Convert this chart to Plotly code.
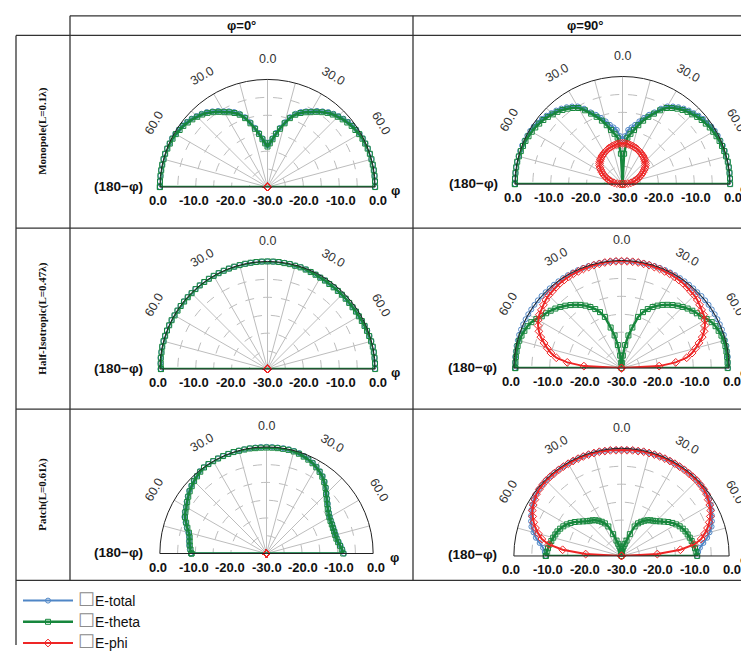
import math
import plotly.graph_objects as go

W, H = 749, 651

# ---------------- data ----------------
THETA = list(range(-90, 91, 3))          # elevation angle, deg (negative = "(180-φ)" side)
ROWS = ["Monopole(L=0.1λ)", "Half-Isotropic(L=0.47λ)", "Patch(L=0.61λ)"]
COLS = ["φ=0°", "φ=90°"]
SERIES = ["E-total", "E-theta", "E-phi"]
ANG_TICKS = [-60, -30, 0, 30, 60]
ANG_TEXT = ["60.0", "30.0", "0.0", "30.0", "60.0"]
RAD_TICKS = [0, -10, -20, -30]
RAD_RANGE = [-30, 0]

# Monopole, phi = 0
MONO0_TOTAL = [0, 0, 0, 0, 0, 0, 0, 0, -0.1, -0.1, -0.3, -0.5, -0.7, -1.1, -1.5, -2.0, -2.5, -3.1, -3.9, -4.7,
               -5.6, -6.3, -7.1, -8.1, -9.5, -11.3, -13.1, -14.7, -16.3, -17.5,
               -18.4,
               -17.5, -16.3, -14.7, -13.1, -11.3, -9.5, -8.1, -7.1, -6.3, -5.6, -4.7, -3.9, -3.1, -2.5, -2.0,
               -1.5, -1.1, -0.7, -0.5, -0.3, -0.1, -0.1, 0, 0, 0, 0, 0, 0, 0, 0]
MONO0_THETA = [0, 0, 0, 0, 0, 0, 0, -0.1, -0.2, -0.3, -0.5, -0.8, -1.0, -1.4, -1.8, -2.3, -2.8, -3.4, -4.2, -5.0,
               -5.9, -6.6, -7.4, -8.4, -9.8, -11.6, -13.4, -15.0, -16.6, -17.8,
               -18.7,
               -17.8, -16.6, -15.0, -13.4, -11.6, -9.8, -8.4, -7.4, -6.6, -5.9, -5.0, -4.2, -3.4, -2.8, -2.3,
               -1.8, -1.4, -1.0, -0.8, -0.5, -0.3, -0.2, -0.1, 0, 0, 0, 0, 0, 0, 0]
PHI0_EPHI = [-30, -30, -30, -30, -30, -30, -30, -30, -30, -30, -30, -30, -30, -30, -30, -30, -30, -30, -30, -30,
             -30, -30, -30, -30, -30, -30, -30, -30, -30, -30,
             -30,
             -30, -30, -30, -30, -30, -30, -30, -30, -30, -30, -30, -30, -30, -30, -30, -30, -30, -30, -30, -30,
             -30, -30, -30, -30, -30, -30, -30, -30, -30, -30]

# Monopole, phi = 90
MONO90_TOTAL = [0, 0, 0, 0, 0, 0, 0, 0, -0.1, -0.2, -0.3, -0.5, -0.8, -1.1, -1.5, -2.0, -2.4, -2.9, -3.5, -4.2,
                -5.0, -6.4, -8.1, -9.3, -10.6, -11.9, -13.1, -14.0, -14.8, -16.6,
                -17.4,
                -16.6, -14.8, -14.0, -13.1, -11.9, -10.6, -9.3, -8.1, -6.4, -5.0, -4.2, -3.5, -2.9, -2.4, -2.0,
                -1.5, -1.1, -0.8, -0.5, -0.3, -0.2, -0.1, 0, 0, 0, 0, 0, 0, 0, 0]
MONO90_THETA = [0, 0, 0, 0, 0, -0.1, -0.2, -0.3, -0.4, -0.6, -0.8, -1.0, -1.3, -1.6, -2.0, -2.5, -2.9, -3.4, -4.0,
                -4.7, -5.5, -6.9, -8.5, -9.9, -11.4, -13.0, -14.6, -15.8, -17.0, -21.5,
                -30,
                -21.5, -17.0, -15.8, -14.6, -13.0, -11.4, -9.9, -8.5, -6.9, -5.5, -4.7, -4.0, -3.4, -2.9, -2.5,
                -2.0, -1.6, -1.3, -1.0, -0.8, -0.6, -0.4, -0.3, -0.2, -0.1, 0, 0, 0, 0, 0]
MONO90_PHI = [-30, -29.3, -28.5, -27.6, -26.8, -26.3, -25.8, -25.2, -24.6, -24.0, -23.4, -22.8, -22.3, -21.8, -21.4,
              -21.1, -20.8, -20.5, -20.3, -20.1, -19.9, -19.7, -19.5, -19.3, -19.2, -19.0, -18.9, -18.8, -18.7, -18.6,
              -18.6,
              -18.6, -18.7, -18.8, -18.9, -19.0, -19.2, -19.3, -19.5, -19.7, -19.9, -20.1, -20.3, -20.5, -20.8,
              -21.1, -21.4, -21.8, -22.3, -22.8, -23.4, -24.0, -24.6, -25.2, -25.8, -26.3, -26.8, -27.6, -28.5,
              -29.3, -30]

# Half-isotropic, phi = 0
HALF0_TOTAL = [-0.2, -0.1, 0, 0, 0, 0, 0, 0, 0, 0, 0, 0, 0, 0, 0, 0, 0, 0, 0, 0, 0, 0, 0, 0, 0, 0, 0, 0, 0, 0,
               0,
               0, 0, 0, 0, -0.1, -0.1, -0.2, -0.3, -0.4, -0.5, -0.5, -0.6, -0.6, -0.6, -0.6, -0.6, -0.6, -0.6,
               -0.5, -0.5, -0.4, -0.3, -0.2, -0.1, 0, 0, 0, 0, 0, 0]
HALF0_THETA = [-0.3, -0.2, -0.1, -0.1, 0, 0, 0, 0, 0, 0, -0.1, -0.1, -0.1, -0.1, -0.1, -0.1, 0, 0, 0, 0,
               0, 0, 0, 0, 0, 0, 0, 0, 0, 0,
               0,
               0, 0, -0.1, -0.1, -0.2, -0.2, -0.3, -0.4, -0.5, -0.6, -0.6, -0.7, -0.7, -0.7, -0.7, -0.7, -0.7, -0.7,
               -0.6, -0.6, -0.5, -0.4, -0.3, -0.2, -0.1, 0, 0, 0, 0, 0]

# Half-isotropic, phi = 90
HALF90_TOTAL = [-0.3, -0.3, -0.2, -0.2, -0.1, -0.1, 0, 0, 0, 0, 0, 0, 0, 0, 0, -0.1, -0.1, -0.1, -0.1, -0.1,
                -0.1, -0.1, -0.1, -0.1, -0.1, -0.1, -0.1, -0.1, -0.1, -0.1,
                -0.1,
                -0.1, -0.1, -0.1, -0.1, -0.1, -0.1, -0.1, -0.1, -0.1, -0.1, -0.1, -0.1, -0.1, -0.1, -0.1,
                0, 0, 0, 0, 0, 0, 0, 0, 0, -0.1, -0.1, -0.2, -0.2, -0.3, -0.3]
HALF90_THETA = [-0.4, -0.4, -0.4, -0.4, -0.4, -0.5, -0.7, -1.0, -1.3, -1.8, -2.6, -3.5, -4.0, -4.6, -5.2, -5.9,
                -6.6, -7.4, -8.2, -9.0, -9.9, -10.9, -12.0, -13.3, -15.0, -18.3, -20.7, -23.5, -26.5, -28.5,
                -30,
                -28.5, -26.5, -23.5, -20.7, -18.3, -15.0, -13.3, -12.0, -10.9, -9.9, -9.0, -8.2, -7.4, -6.6, -5.9,
                -5.2, -4.6, -4.0, -3.5, -2.6, -1.8, -1.3, -1.0, -0.7, -0.5, -0.4, -0.4, -0.4, -0.4, -0.4]
HALF90_PHI = [-30, -19.5, -14.8, -11.6, -9.9, -8.6, -7.3, -5.9, -4.8, -3.9, -3.2, -2.7, -2.4, -2.0, -1.6, -1.3,
              -1.2, -1.0, -0.8, -0.7, -0.6, -0.5, -0.5, -0.4, -0.4, -0.3, -0.3, -0.2, -0.2, -0.2,
              -0.2,
              -0.2, -0.2, -0.2, -0.3, -0.3, -0.4, -0.4, -0.5, -0.5, -0.6, -0.7, -0.8, -1.0, -1.2, -1.3,
              -1.6, -2.0, -2.4, -2.7, -3.2, -3.9, -4.8, -5.9, -7.3, -8.6, -9.9, -11.6, -14.8, -19.5, -30]

# Patch, phi = 0
PATCH0_TOTAL = [-8.7, -8.4, -8.1, -7.9, -7.7, -7.2, -6.4, -5.6, -4.7, -4.2, -3.8, -3.2, -2.6, -2.0, -1.5, -1.0,
                -0.6, -0.2, 0, 0, 0, 0, 0, 0, 0, 0, 0, 0, 0, 0,
                0,
                0, 0, 0, 0, -0.1, -0.3, -0.6, -0.9, -1.3, -1.8, -2.4, -3.1, -4.0, -5.0, -6.1, -7.0, -7.8, -8.5,
                -9.0, -9.4, -9.6, -9.7, -9.8, -9.8, -9.8, -9.7, -9.4, -9.0, -8.6, -8.2]
PATCH0_THETA = [-8.9, -8.6, -8.3, -8.1, -7.9, -7.4, -6.6, -5.8, -4.9, -4.4, -4.0, -3.4, -2.8, -2.2, -1.7, -1.2,
                -0.8, -0.4, -0.1, 0, 0, 0, 0, 0, 0, -0.1, -0.1, -0.1, -0.2, -0.2,
                -0.2,
                -0.2, -0.2, -0.2, -0.2, -0.3, -0.5, -0.8, -1.1, -1.5, -2.0, -2.6, -3.3, -4.2, -5.2, -6.3, -7.2,
                -8.0, -8.7, -9.2, -9.6, -9.8, -9.9, -10.0, -10.0, -10.0, -9.9, -9.6, -9.2, -8.8, -8.4]

# Patch, phi = 90
PATCH90_TOTAL = [-8.9, -8.6, -8.0, -6.9, -5.6, -4.6, -3.6, -3.0, -2.4, -1.8, -1.3, -0.9, -0.6, -0.4, -0.3, -0.2,
                 -0.2, -0.2, -0.2, -0.2, -0.2, -0.2, -0.2, -0.2, -0.2, -0.2, -0.2, -0.3, -0.3, -0.4,
                 -0.4,
                 -0.4, -0.3, -0.3, -0.2, -0.2, -0.2, -0.2, -0.2, -0.2, -0.2, -0.2, -0.2, -0.2, -0.2, -0.2,
                 -0.3, -0.4, -0.6, -0.9, -1.3, -1.8, -2.4, -3.0, -3.6, -4.6, -5.6, -6.9, -8.0, -8.6, -8.9]
PATCH90_THETA = [-8.9, -9.1, -9.4, -9.7, -10.0, -10.3, -10.6, -10.9, -11.3, -11.8, -12.4, -13.1, -13.9, -14.8,
                 -15.6, -16.3, -16.8, -17.2, -17.7, -18.3, -19.0, -19.8, -21.0, -23.5, -25.5, -26.5, -27.3, -28.0,
                 -28.7, -29.3,
                 -30,
                 -29.3, -28.7, -28.0, -27.3, -26.5, -25.5, -23.5, -21.0, -19.8, -19.0, -18.3, -17.7, -17.2, -16.8,
                 -16.3, -15.6, -14.8, -13.9, -13.1, -12.4, -11.8, -11.3, -10.9, -10.6, -10.3, -10.0, -9.7, -9.4,
                 -9.1, -8.9]
PATCH90_PHI = [-30, -20.0, -13.5, -9.5, -7.3, -6.0, -4.8, -3.8, -2.9, -2.1, -1.6, -1.2, -0.7, -0.5, -0.4, -0.3,
               -0.3, -0.3, -0.3, -0.3, -0.3, -0.3, -0.3, -0.3, -0.3, -0.3, -0.3, -0.4, -0.4, -0.5,
               -0.5,
               -0.5, -0.4, -0.4, -0.3, -0.3, -0.3, -0.3, -0.3, -0.3, -0.3, -0.3, -0.3, -0.3, -0.3, -0.3,
               -0.4, -0.5, -0.7, -1.2, -1.6, -2.1, -2.9, -3.8, -4.8, -6.0, -7.3, -9.5, -13.5, -20.0, -30]

PANEL_DATA = [
    (MONO0_TOTAL, MONO0_THETA, PHI0_EPHI),
    (MONO90_TOTAL, MONO90_THETA, MONO90_PHI),
    (HALF0_TOTAL, HALF0_THETA, PHI0_EPHI),
    (HALF90_TOTAL, HALF90_THETA, HALF90_PHI),
    (PATCH0_TOTAL, PATCH0_THETA, PHI0_EPHI),
    (PATCH90_TOTAL, PATCH90_THETA, PATCH90_PHI),
]

# ---------------- layout / style ----------------
# panel geometry in pixels: centre x, centre y (baseline), radius
GEOM = [(259.5, 183, 110), (614.5, 180, 110),
        (259.5, 369, 110), (613.5, 368, 110),
        (258.5, 557.5, 109), (613.5, 560, 110)]

COLORS = ["#4f86c6", "#17873d", "#ee2626"]
SYMBOLS = ["circle-open", "square-open", "diamond-open"]
MSIZE = [5, 5, 6]
LWIDTH = [2, 2.5, 2]

SANS = "Liberation Sans, Arial, sans-serif"
SERIF = "Liberation Serif, Times New Roman, serif"
NARROW = "Liberation Sans Narrow, Arial Narrow, Liberation Sans, Arial"
GRID = "#bdbdbd"
LINE = "#333333"

fig = go.Figure()
theta_closed = THETA + THETA[:1]
for p, series in enumerate(PANEL_DATA):
    sub = "polar" if p == 0 else f"polar{p + 1}"
    for s, vals in enumerate(series):
        fig.add_trace(go.Scatterpolar(
            r=vals + vals[:1], theta=theta_closed, subplot=sub,
            mode="lines+markers",
            name=f'<span style="color:#8c8c8c;font-size:19px">☐</span>{SERIES[s]}',
            showlegend=(p == 0),
            line=dict(color=COLORS[s], width=LWIDTH[s]),
            marker=dict(symbol=SYMBOLS[s], size=MSIZE[s], color=COLORS[s], line=dict(width=1, color=COLORS[s])),
            hoverinfo="skip",
        ))

layout = dict(width=W, height=H, margin=dict(l=0, r=0, t=0, b=0),
              paper_bgcolor="white", plot_bgcolor="white")
annotations = []
shapes = []

for p, (cx, cy, R) in enumerate(GEOM):
    key = "polar" if p == 0 else f"polar{p + 1}"
    layout[key] = dict(
        domain=dict(x=[(cx - R) / W, (cx + R) / W], y=[1 - cy / H, 1 - (cy - R) / H]),
        sector=[0, 180],
        bgcolor="rgba(0,0,0,0)",
        radialaxis=dict(range=RAD_RANGE, showticklabels=False, ticks="", showline=False,
                        tickmode="array", tickvals=[-25, -20, -15, -10, -5],
                        gridcolor=GRID, griddash="dash", gridwidth=1),
        angularaxis=dict(rotation=90, direction="clockwise", thetaunit="degrees",
                         tickmode="array", tickvals=list(range(-75, 76, 15)),
                         showticklabels=False, ticks="", gridcolor=GRID, gridwidth=1,
                         showline=True, linecolor="#222222", linewidth=1),
    )
    # angular tick labels (tangential)
    for a, t in zip(ANG_TICKS, ANG_TEXT):
        rr = R + 21
        x = cx + rr * math.sin(math.radians(a))
        y = cy - rr * math.cos(math.radians(a))
        annotations.append(dict(x=x / W, y=1 - y / H, xref="paper", yref="paper", text=t,
                                showarrow=False, textangle=a, xanchor="center", yanchor="middle",
                                font=dict(family=SANS, size=12.5, color="#333333")))
    # radial tick labels along the baseline, both sides
    for v in RAD_TICKS:
        for side in (-1, 1):
            if v == -30 and side == 1:
                continue
            x = cx + side * (v - RAD_RANGE[0]) / (RAD_RANGE[1] - RAD_RANGE[0]) * R
            annotations.append(dict(x=x / W, y=1 - (cy + 14) / H, xref="paper", yref="paper",
                                    text=f"<b>{v:.1f}</b>", showarrow=False, xanchor="center",
                                    yanchor="middle",
                                    font=dict(family=SANS, size=13, color="#111111")))
    annotations.append(dict(x=(cx - R - 13) / W, y=1 - (cy - 1) / H, xref="paper", yref="paper",
                            text="<b>(180−φ)</b>", showarrow=False, xanchor="right", yanchor="middle",
                            font=dict(family=SANS, size=13.5, color="#111111")))
    phi_right = min(cx + R + 23, W - 8)
    annotations.append(dict(x=phi_right / W, y=1 - (cy + 4) / H, xref="paper", yref="paper",
                            text="<b>φ</b>", showarrow=False, xanchor="right", yanchor="middle",
                            borderpad=0, borderwidth=0,
                            font=dict(family=SANS, size=13, color="#111111")))

# column headers
for i, (x0, x1) in enumerate([(62, 405), (405, 749)]):
    annotations.append(dict(x=(x0 + x1) / 2 / W, y=1 - 18 / H, xref="paper", yref="paper",
                            text=f"<b>{COLS[i]}</b>", showarrow=False, xanchor="center", yanchor="middle",
                            font=dict(family=NARROW, size=13, color="#111111")))
# row labels
for i, (y0, y1) in enumerate([(28, 225), (225, 410), (410, 585)]):
    annotations.append(dict(x=35 / W, y=1 - (y0 + y1) / 2 / H, xref="paper", yref="paper",
                            text=f"<b>{ROWS[i]}</b>", showarrow=False, textangle=-90,
                            xanchor="center", yanchor="middle",
                            font=dict(family=SERIF, size=11, color="#111111")))

# table lines
def hline(y, x0, x1):
    shapes.append(dict(type="line", xref="paper", yref="paper", x0=x0 / W, x1=x1 / W,
                       y0=1 - y / H, y1=1 - y / H, line=dict(color=LINE, width=1.3)))

def vline(x, y0, y1):
    shapes.append(dict(type="line", xref="paper", yref="paper", x0=x / W, x1=x / W,
                       y0=1 - y0 / H, y1=1 - y1 / H, line=dict(color=LINE, width=1.3)))

hline(8, 62, 749)
for yy in (28, 225, 410, 585):
    hline(yy, 8, 749)
vline(8, 28, 651)
vline(62, 8, 585)
vline(405, 8, 585)

layout["annotations"] = annotations
layout["shapes"] = shapes
layout["showlegend"] = True
layout["legend"] = dict(x=10 / W, y=1 - 590 / H, xanchor="left", yanchor="top",
                        bgcolor="rgba(0,0,0,0)", borderwidth=0, tracegroupgap=0,
                        font=dict(family=SANS, size=14, color="#111111"), itemwidth=50)
fig.update_layout(**layout)

fig.write_html("out.html")
